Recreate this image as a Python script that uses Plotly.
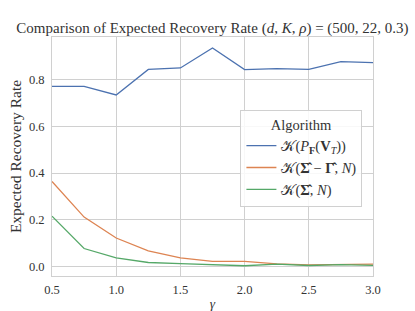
import plotly.graph_objects as go

gamma = [0.5, 0.75, 1.0, 1.25, 1.5, 1.75, 2.0, 2.25, 2.5, 2.75, 3.0]
rate_pf = [0.772, 0.772, 0.735, 0.845, 0.851, 0.937, 0.844, 0.848, 0.845, 0.878, 0.874]
rate_sig_gam = [0.364, 0.211, 0.121, 0.066, 0.036, 0.021, 0.021, 0.010, 0.006, 0.007, 0.009]
rate_sig = [0.215, 0.076, 0.036, 0.016, 0.011, 0.007, 0.002, 0.009, 0.003, 0.007, 0.004]

names = [
    "𝒦(<i>P</i><sub><b>F</b></sub>(<b>V</b><sub><i>T</i></sub>))",
    "𝒦(<b>Σ̂</b> − <b>Γ̂</b>, <i>N</i>)",
    "𝒦(<b>Σ̂</b>, <i>N</i>)",
]
colors = ["#4C72B0", "#DD8452", "#55A868"]
series = [rate_pf, rate_sig_gam, rate_sig]

FONT = "Liberation Serif, DejaVu Serif, serif"
TXT = "#333333"
GRID = "#D0D0D0"

fig = go.Figure()
for nm, c, ys in zip(names, colors, series):
    fig.add_trace(go.Scatter(x=gamma, y=ys, mode="lines", name=nm,
                             line=dict(color=c, width=1.3)))

fig.update_layout(
    width=415, height=311,
    margin=dict(l=52, r=42, t=37, b=35),
    paper_bgcolor="white", plot_bgcolor="white",
    font=dict(family=FONT, color=TXT, size=12),
    title=dict(text="Comparison of Expected Recovery Rate (<i>d</i>, <i>K</i>, <i>ρ</i>) = (500, 22, 0.3)",
               x=0.512, xanchor="center", y=0.91, yanchor="middle",
               font=dict(family=FONT, size=15, color=TXT)),
    legend=dict(
        title=dict(text="Algorithm", side="top center", font=dict(family=FONT, size=14.5)),
        x=0.967, xanchor="right", y=0.695, yanchor="top",
        bgcolor="rgba(255,255,255,0.85)", bordercolor="#D0D0D0", borderwidth=1,
        font=dict(family=FONT, size=14.5, color=TXT),
        itemwidth=30,
    ),
    showlegend=True,
)
fig.update_xaxes(
    range=[0.5, 3.0], tickvals=[0.5, 1.0, 1.5, 2.0, 2.5, 3.0],
    ticktext=["0.5", "1.0", "1.5", "2.0", "2.5", "3.0"],
    showgrid=True, gridcolor=GRID, gridwidth=1,
    showline=True, mirror=True, linecolor=GRID, linewidth=1,
    zeroline=False, ticks="", ticklabelstandoff=2, automargin=False,
    tickfont=dict(family=FONT, size=12.5),
    title=dict(text="<i>γ</i>", font=dict(family=FONT, size=13.5), standoff=7),
)
fig.update_yaxes(
    range=[-0.042, 0.984], tickvals=[0.0, 0.2, 0.4, 0.6, 0.8],
    ticktext=["0.0", "0.2", "0.4", "0.6", "0.8"],
    showgrid=True, gridcolor=GRID, gridwidth=1,
    showline=True, mirror=True, linecolor=GRID, linewidth=1,
    zeroline=False, ticks="", ticklabelstandoff=4, automargin=False,
    tickfont=dict(family=FONT, size=12.5),
    title=dict(text="Expected Recovery Rate", font=dict(family=FONT, size=15.5), standoff=3),
)

fig.write_html("out.html", config={"displayModeBar": False},
               post_script="document.body.style.margin='0';")
